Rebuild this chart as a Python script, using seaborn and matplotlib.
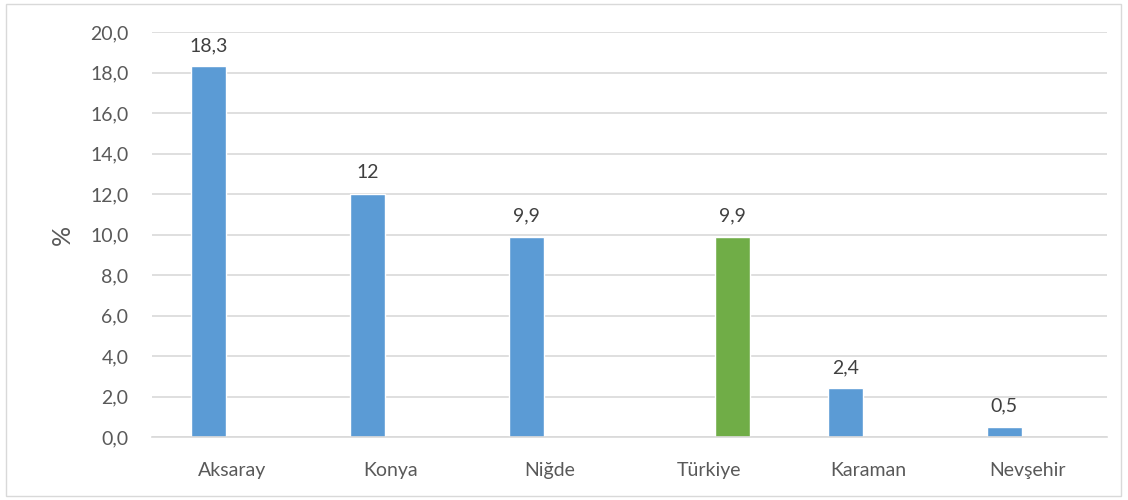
import pandas as pd
import matplotlib
matplotlib.use("Agg")
import matplotlib.pyplot as plt
from matplotlib.patches import Rectangle
import seaborn as sns

# -- Data ----------------------------------------------------------------------
CATEGORIES = ["Aksaray", "Konya", "Niğde", "Türkiye", "Karaman", "Nevşehir"]
SERIES = ["il", "il", "il", "Türkiye", "il", "il"]
VALUES = [18.3, 12.0, 9.9, 9.9, 2.4, 0.5]
VALUE_LABELS = ["18,3", "12", "9,9", "9,9", "2,4", "0,5"]
Y_TICKS = [0, 2, 4, 6, 8, 10, 12, 14, 16, 18, 20]

COLORS = {"il": "#5B9BD5", "Türkiye": "#70AD47"}
TEXT = "#595959"
GRID = "#D9D9D9"

sns.set_theme(style="white")
plt.rcParams["font.family"] = ["Lato", "DejaVu Sans"]

df = pd.DataFrame({"kategori": CATEGORIES, "seri": SERIES, "deger": VALUES})

fig = plt.figure(figsize=(11.28, 5), dpi=100)
ax = fig.add_axes([0.1348, 0.126, 0.8466, 0.81])

sns.barplot(data=df, x="kategori", y="deger", hue="seri", order=CATEGORIES,
            hue_order=["il", "Türkiye"], palette=COLORS, width=0.58, gap=0.24,
            dodge=True, saturation=1, ax=ax, legend=False)

# value labels above the bars
for cont in ax.containers:
    for bar in cont:
        h = bar.get_height()
        if pd.isna(h) or h == 0:
            continue
        cx = bar.get_x() + bar.get_width() / 2
        i = int(round(cx))
        ax.annotate(VALUE_LABELS[i], (cx, h),
                    xytext=(0, 9), textcoords="offset points",
                    ha="center", va="bottom", fontsize=14, color="#404040")

ax.set_ylim(0, 20)
ax.set_yticks(Y_TICKS)
ax.set_yticklabels([f"{t:.1f}".replace(".", ",") for t in Y_TICKS])
ax.set_xlim(-0.5, len(CATEGORIES) - 0.5)
ax.set_xlabel("")
ax.set_ylabel("%", fontsize=18, color=TEXT, labelpad=12)
ax.tick_params(axis="y", labelsize=14, labelcolor=TEXT, length=0, pad=17)
ax.tick_params(axis="x", labelsize=14, labelcolor=TEXT, length=0, pad=18)
ax.yaxis.grid(True, color=GRID, linewidth=1.2)
ax.set_axisbelow(True)
for side in ["top", "right", "left"]:
    ax.spines[side].set_visible(False)
ax.spines["bottom"].set_color(GRID)
ax.spines["bottom"].set_linewidth(1.2)

# light frame around the chart
fig.patches.append(Rectangle((6 / 1128, 4 / 500), 1115 / 1128, 492 / 500,
                             transform=fig.transFigure, fill=False,
                             edgecolor="#D9D9D9", linewidth=1))

fig.savefig("out.png", dpi=100)
plt.close(fig)
